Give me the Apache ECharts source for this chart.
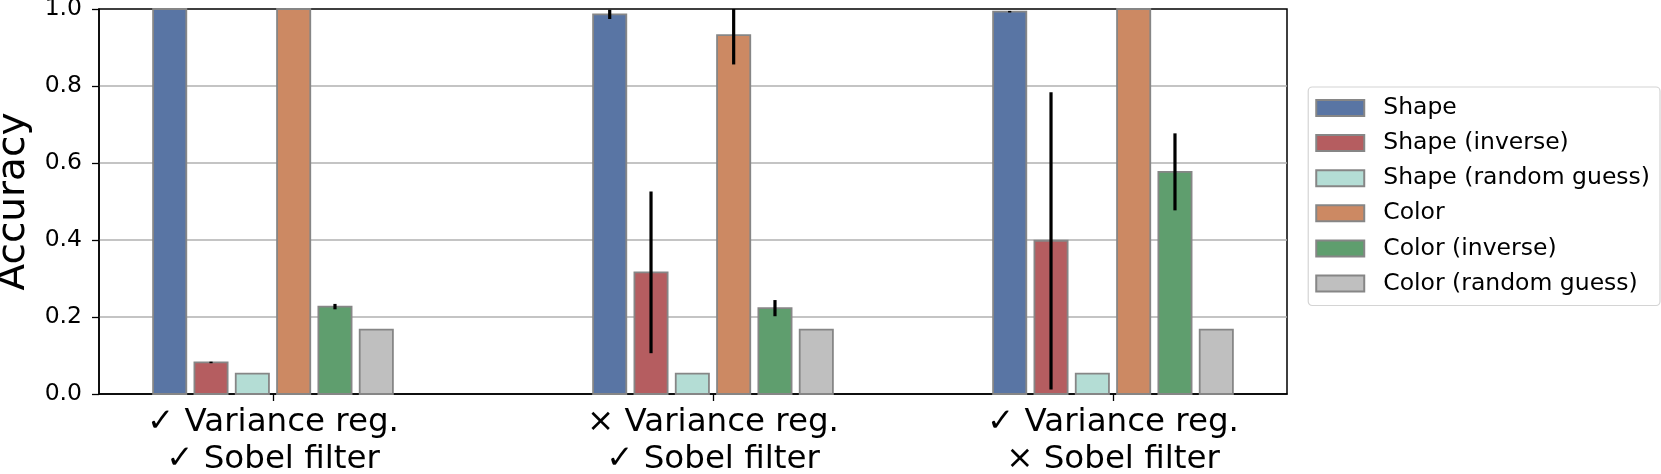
<!DOCTYPE html>
<html>
<head>
<meta charset="utf-8">
<script src="https://cdn.jsdelivr.net/npm/echarts@6/dist/echarts.min.js"></script>
<style>
    html, body { margin: 0; padding: 0; background: #fff; }
    #chart { width: 1661px; height: 474px; }
</style>
</head>
<body>
<div id="chart"></div>
<script>
// group labels and where each group sits on the x scale
const groupLabels = [
    '\u2713 Variance reg.\n\u2713 Sobel filter',
    '\u00d7 Variance reg.\n\u2713 Sobel filter',
    '\u2713 Variance reg.\n\u00d7 Sobel filter'
];
const groupPos = [0, 1.1, 2.1];

const seriesNames = [
    'Shape', 'Shape (inverse)', 'Shape (random guess)',
    'Color', 'Color (inverse)', 'Color (random guess)'
];

// mean accuracy per group
const shapeAcc = [1.0, 0.986, 0.993];
const shapeInvAcc = [0.082, 0.316, 0.398];
const shapeRandAcc = [0.053, 0.053, 0.053];
const colorAcc = [1.0, 0.932, 1.0];
const colorInvAcc = [0.227, 0.223, 0.577];
const colorRandAcc = [0.167, 0.167, 0.167];

// error bar half-lengths
const shapeErr = [0, 0.012, 0.002];
const shapeInvErr = [0.002, 0.21, 0.386];
const shapeRandErr = [0, 0, 0];
const colorErr = [0, 0.076, 0];
const colorInvErr = [0.007, 0.021, 0.1];
const colorRandErr = [0, 0, 0];

const colors = ['#5975a4', '#b55d60', '#b4ddd5', '#cc8963', '#5f9e6e', '#bfbfbf'];
const edgeColor = '#868686';
const FONT = 'DejaVu Sans';

const values = [shapeAcc, shapeInvAcc, shapeRandAcc, colorAcc, colorInvAcc, colorRandAcc];
const errors = [shapeErr, shapeInvErr, shapeRandErr, colorErr, colorInvErr, colorRandErr];

const BAR_PITCH = 0.1033;
const BAR_WIDTH = 0.083;

function makeRenderItem(si) {
    return function (params, api) {
        const gi = api.value(0);
        const x = groupPos[gi] + (si - 2.5) * BAR_PITCH;
        const v = api.value(1);
        const err = api.value(2);
        const top = api.coord([x, v]);
        const base = api.coord([x, 0]);
        const w = api.size([BAR_WIDTH, 0])[0];
        const plotTop = params.coordSys.y;
        const children = [{
            type: 'rect',
            shape: { x: top[0] - w / 2, y: top[1], width: w, height: base[1] - top[1] },
            style: { fill: colors[si], stroke: edgeColor, lineWidth: 1.8 }
        }];
        if (err > 0) {
            const hi = api.coord([x, v + err]);
            const lo = api.coord([x, v - err]);
            children.push({
                type: 'line',
                shape: { x1: top[0], y1: Math.max(hi[1], plotTop), x2: top[0], y2: lo[1] },
                style: { stroke: '#000', lineWidth: 3.2 },
                z2: 10
            });
        }
        return { type: 'group', children: children };
    };
}

const series = seriesNames.map((name, si) => ({
    name: name,
    type: 'custom',
    renderItem: makeRenderItem(si),
    itemStyle: { color: colors[si], borderColor: edgeColor, borderWidth: 2 },
    encode: { x: 0, y: 1 },
    data: values[si].map((v, gi) => [gi, v, errors[si][gi]])
}));

const chart = echarts.init(document.getElementById('chart'), null, { renderer: 'canvas' });

chart.setOption({
    animation: false,
    grid: {
        left: 99, top: 9, right: 374, bottom: 80,
        outerBoundsMode: 'none',
        containLabel: false,
        show: true, borderColor: '#000', borderWidth: 1.5
    },
    legend: {
        orient: 'vertical',
        right: 1, top: 87,
        padding: [9, 10, 10, 7],
        itemWidth: 48, itemHeight: 16,
        itemGap: 11.1,
        backgroundColor: '#fff',
        borderColor: '#d4d4d4', borderWidth: 1.2, borderRadius: 4,
        textStyle: { fontFamily: FONT, fontSize: 23.5, color: '#000', padding: [0, 0, 0, 14] },
        data: seriesNames.map((name, si) => ({
            name: name,
            icon: 'rect',
            itemStyle: { color: colors[si], borderColor: edgeColor, borderWidth: 2 }
        }))
    },
    xAxis: {
        type: 'value',
        min: -0.435, max: 2.535,
        splitLine: { show: false },
        axisLine: { onZero: false, lineStyle: { color: '#000', width: 1.5 } },
        axisTick: { show: true, length: 7, customValues: groupPos, lineStyle: { color: '#000', width: 1.3 } },
        axisLabel: {
            customValues: groupPos,
            margin: 10,
            fontFamily: FONT, fontSize: 32.5, lineHeight: 37, color: '#000',
            formatter: (val) => {
                let best = 0;
                groupPos.forEach((p, i) => {
                    if (Math.abs(p - val) < Math.abs(groupPos[best] - val)) best = i;
                });
                return groupLabels[best];
            }
        }
    },
    yAxis: {
        type: 'value',
        min: 0, max: 1, interval: 0.2,
        name: 'Accuracy',
        nameLocation: 'middle',
        nameGap: 56,
        nameTextStyle: { fontFamily: FONT, fontSize: 39, color: '#000' },
        axisLine: { show: true, onZero: false, lineStyle: { color: '#000', width: 1.5 } },
        axisTick: { show: true, length: 7, lineStyle: { color: '#000', width: 1.3 } },
        axisLabel: {
            margin: 17,
            fontFamily: FONT, fontSize: 23.5, color: '#000',
            formatter: (v) => v.toFixed(1)
        },
        splitLine: {
            show: true, showMinLine: false, showMaxLine: false,
            lineStyle: { color: '#b0b0b0', width: 1.6 }
        }
    },
    series: series
});
</script>
</body>
</html>
